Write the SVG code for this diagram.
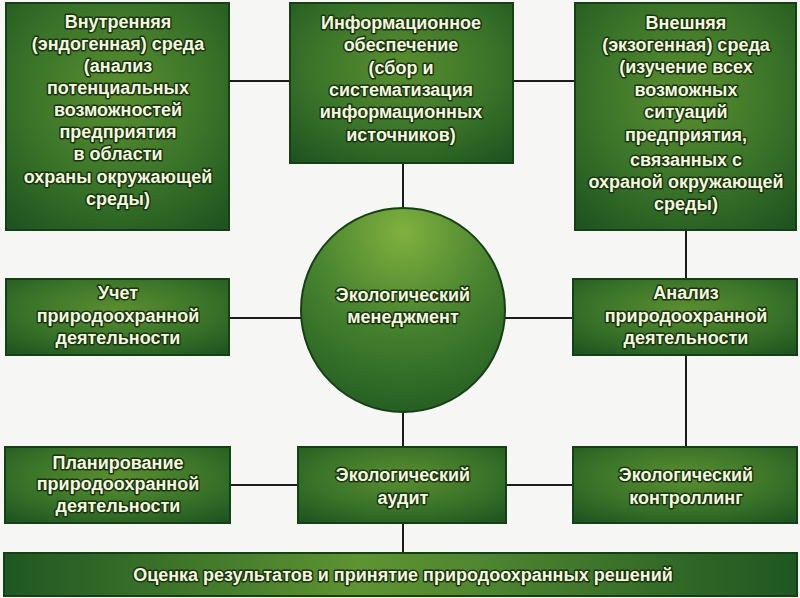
<svg xmlns="http://www.w3.org/2000/svg" width="800" height="598" viewBox="0 0 800 598">
  <defs>
    <radialGradient id="boxGrad" cx="50%" cy="40%" r="75%">
      <stop offset="0" stop-color="#5a8e2f"/>
      <stop offset="0.55" stop-color="#3a7429"/>
      <stop offset="1" stop-color="#1e5420"/>
    </radialGradient>
    <radialGradient id="circGrad" cx="50%" cy="12%" r="95%">
      <stop offset="0" stop-color="#80b03e"/>
      <stop offset="0.45" stop-color="#4a8530"/>
      <stop offset="1" stop-color="#1f5a22"/>
    </radialGradient>
    <linearGradient id="barGrad" x1="0" y1="0" x2="1" y2="0">
      <stop offset="0" stop-color="#1f5722"/>
      <stop offset="0.45" stop-color="#5e9432"/>
      <stop offset="0.6" stop-color="#4f8630"/>
      <stop offset="1" stop-color="#1f5722"/>
    </linearGradient>
    <style>
      .box { fill: url(#boxGrad); stroke: #173f16; stroke-width: 2; }
      .circ { fill: url(#circGrad); stroke: #173f16; stroke-width: 2; }
      .bar { fill: url(#barGrad); stroke: #173f16; stroke-width: 2; }
      .conn line { stroke: #1c1c1c; stroke-width: 2; }
      text { font-family: "Liberation Sans", Arial, sans-serif; font-weight: bold; font-size: 18px;
             fill: #f3f7df; text-anchor: middle; stroke: #1a3410; stroke-width: 3; stroke-linejoin: round; paint-order: stroke; }
    </style>
  </defs>
  <rect x="0" y="0" width="800" height="598" fill="#f6f6f4"/>

  <g id="connectors" class="conn">
    <line x1="229" y1="81" x2="290" y2="81"/>
    <line x1="513" y1="81" x2="575" y2="81"/>
    <line x1="403" y1="163" x2="403" y2="209"/>
    <line x1="229" y1="318" x2="302" y2="318"/>
    <line x1="504" y1="318" x2="573" y2="318"/>
    <line x1="686" y1="230" x2="686" y2="279"/>
    <line x1="686" y1="355" x2="686" y2="447"/>
    <line x1="403" y1="411" x2="403" y2="447"/>
    <line x1="230" y1="485" x2="298" y2="485"/>
    <line x1="506" y1="485" x2="573" y2="485"/>
    <line x1="403" y1="523" x2="403" y2="553"/>
  </g>

  <g id="internal-env">
    <rect class="box" x="6" y="3" width="223" height="227"/>
    <text x="118" y="28">Внутренняя</text>
    <text x="118" y="50">(эндогенная) среда</text>
    <text x="118" y="72">(анализ</text>
    <text x="118" y="94">потенциальных</text>
    <text x="118" y="116">возможностей</text>
    <text x="118" y="138">предприятия</text>
    <text x="118" y="160">в области</text>
    <text x="118" y="183">охраны окружающей</text>
    <text x="118" y="205">среды)</text>
  </g>

  <g id="info-support">
    <rect class="box" x="290" y="3" width="223" height="160"/>
    <text x="401" y="29">Информационное</text>
    <text x="401" y="51">обеспечение</text>
    <text x="401" y="74">(сбор и</text>
    <text x="401" y="96">систематизация</text>
    <text x="401" y="118">информационных</text>
    <text x="401" y="141">источников)</text>
  </g>

  <g id="external-env">
    <rect class="box" x="575" y="3" width="221" height="227"/>
    <text x="686" y="29">Внешняя</text>
    <text x="686" y="51">(экзогенная) среда</text>
    <text x="686" y="73">(изучение всех</text>
    <text x="686" y="96">возможных</text>
    <text x="686" y="118">ситуаций</text>
    <text x="686" y="141">предприятия,</text>
    <text x="686" y="166">связанных с</text>
    <text x="686" y="188">охраной окружающей</text>
    <text x="686" y="210">среды)</text>
  </g>

  <g id="eco-management">
    <circle class="circ" cx="403" cy="310" r="102"/>
    <text x="403" y="301">Экологический</text>
    <text x="403" y="323">менеджмент</text>
  </g>

  <g id="accounting">
    <rect class="box" x="6" y="279" width="223" height="76"/>
    <text x="118" y="299">Учет</text>
    <text x="118" y="322">природоохранной</text>
    <text x="118" y="344">деятельности</text>
  </g>

  <g id="analysis">
    <rect class="box" x="573" y="279" width="224" height="76"/>
    <text x="686" y="299">Анализ</text>
    <text x="686" y="322">природоохранной</text>
    <text x="686" y="344">деятельности</text>
  </g>

  <g id="planning">
    <rect class="box" x="5" y="447" width="225" height="76"/>
    <text x="118" y="469">Планирование</text>
    <text x="118" y="490">природоохранной</text>
    <text x="118" y="512">деятельности</text>
  </g>

  <g id="eco-audit">
    <rect class="box" x="298" y="447" width="208" height="76"/>
    <text x="403" y="481">Экологический</text>
    <text x="403" y="504">аудит</text>
  </g>

  <g id="eco-controlling">
    <rect class="box" x="573" y="447" width="224" height="76"/>
    <text x="686" y="481">Экологический</text>
    <text x="686" y="504">контроллинг</text>
  </g>

  <g id="evaluation">
    <rect class="bar" x="4" y="553" width="793" height="43"/>
    <text x="403" y="581">Оценка результатов и принятие природоохранных решений</text>
  </g>
</svg>
